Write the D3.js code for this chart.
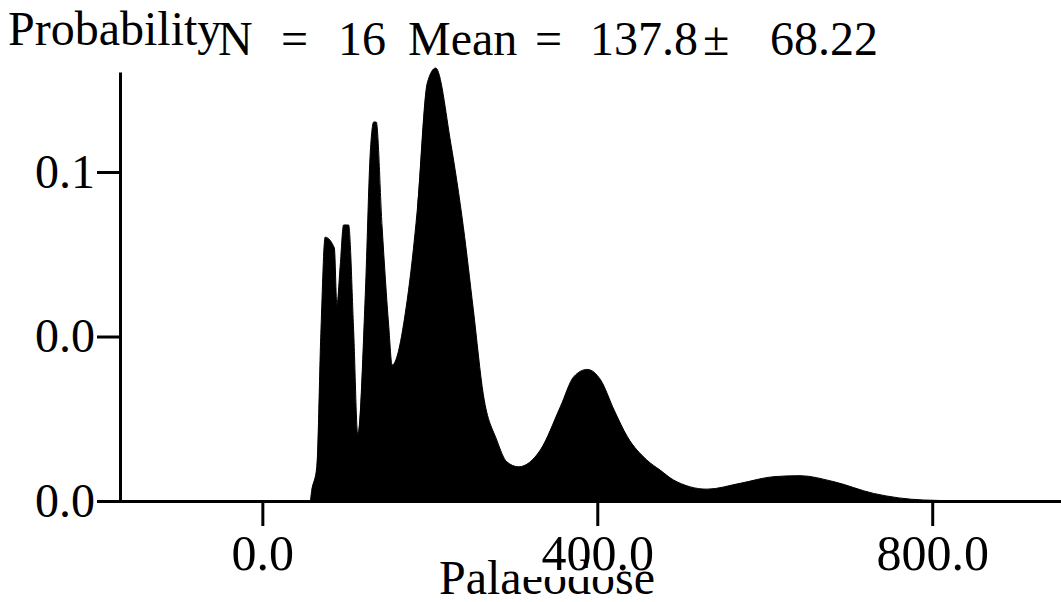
<!DOCTYPE html>
<html>
<head>
<meta charset="utf-8">
<script src="https://cdn.jsdelivr.net/npm/d3@7"></script>
<style>
  html, body { margin: 0; padding: 0; background: #fff; }
  svg { display: block; }
  text { font-family: "Liberation Serif", "Times New Roman", serif; fill: #000; }
</style>
</head>
<body>
<svg id="chart" width="1061" height="602"></svg>
<script>
// ---- data ----
const doseValues = [-170, 57, 59, 65, 70, 75, 86, 89, 93, 97,
  103, 109, 114, 123, 129, 133, 136, 143, 151, 155,
  173, 185, 197, 207, 225, 240, 252, 264, 280, 292,
  306, 332, 356, 372, 388, 404, 420, 436, 459, 475,
  491, 531, 571, 611, 642, 682, 730, 790, 850, 955];
const probValues = [0, 0, 0.0033, 0.0103, 0.052, 0.0802, 0.0769, 0.0596, 0.0717, 0.0839,
  0.0839, 0.052, 0.0201, 0.0632, 0.1064, 0.1152, 0.1152, 0.0834, 0.053, 0.0413,
  0.0611, 0.0884, 0.1271, 0.1316, 0.1088, 0.0834, 0.0581, 0.0322, 0.0185, 0.0119,
  0.0104, 0.0155, 0.0287, 0.0378, 0.0400, 0.0368, 0.0277, 0.0195, 0.0125, 0.0094,
  0.0064, 0.0036, 0.0054, 0.0074, 0.0077, 0.0059, 0.0023, 0.0003, 0, 0];
const xTickValues = [0, 400, 800];
const xTickLabels = ["0.0", "400.0", "800.0"];
const yTickValues = [0, 0.05, 0.1];
const yTickLabels = ["0.0", "0.0", "0.1"];
const titlePieces = ["N", "=", "16", "Mean", "=", "137.8", "\u00B1", "68.22"];
const titlePieceX = [218, 281, 338, 408, 535, 590, 703, 770];
const yAxisLabel = "Probability";
const xAxisLabel = "Palaeodose";

// ---- layout ----
const svg = d3.select("#chart");
const x = d3.scaleLinear().domain([-170, 955]).range([120, 1062]);
const y = d3.scaleLinear().domain([0, 0.1304]).range([501, 72]);
const FS = 48;

const data = doseValues.map((d, i) => ({ x: d, y: probValues[i] }));

// density area
const area = d3.area()
  .x(d => x(d.x))
  .y0(y(0))
  .y1(d => y(d.y))
  .curve(d3.curveMonotoneX);
svg.append("path")
  .datum(data)
  .attr("d", area)
  .attr("fill", "#000")
  .attr("stroke", "#000")
  .attr("stroke-width", 1);

// x axis
const xAxis = d3.axisBottom(x)
  .tickValues(xTickValues)
  .tickFormat((d, i) => xTickLabels[i])
  .tickSize(25)
  .tickSizeOuter(0)
  .tickPadding(8);
const gx = svg.append("g").attr("transform", `translate(0,${y(0)})`).call(xAxis);
gx.select(".domain").attr("stroke-width", 3).attr("d", `M${118},0.5H1061`);
gx.selectAll(".tick line").attr("stroke-width", 3);
gx.selectAll(".tick text")
  .attr("font-size", 50)
  .attr("font-family", "Liberation Serif")
  .attr("dy", "0.71em");

// y axis
const yAxis = d3.axisLeft(y)
  .tickValues(yTickValues)
  .tickFormat((d, i) => yTickLabels[i])
  .tickSize(23)
  .tickSizeOuter(0)
  .tickPadding(2);
const gy = svg.append("g").attr("transform", `translate(${x(-170)},0)`).call(yAxis);
gy.select(".domain").attr("stroke-width", 3);
gy.selectAll(".tick line").attr("stroke-width", 3);
gy.selectAll(".tick text")
  .attr("font-size", FS)
  .attr("font-family", "Liberation Serif")
  .attr("dy", "0.32em");

// x axis title with its partially hidden top (as in reference)
svg.append("text")
  .attr("x", 547)
  .attr("y", 594)
  .attr("text-anchor", "middle")
  .attr("font-size", FS)
  .text(xAxisLabel);
svg.append("rect")
  .attr("x", 522).attr("y", 568).attr("width", 94).attr("height", 9)
  .attr("fill", "#fff");
// bring x tick labels above the mask
gx.raise();

// y axis title (top-left)
svg.append("text")
  .attr("x", 8)
  .attr("y", 45)
  .attr("font-size", FS)
  .text(yAxisLabel);

// statistics title
const title = svg.append("text")
  .attr("y", 55)
  .attr("font-size", FS);
title.selectAll("tspan")
  .data(titlePieces)
  .join("tspan")
  .attr("x", (d, i) => titlePieceX[i])
  .text(d => d);
</script>
</body>
</html>
